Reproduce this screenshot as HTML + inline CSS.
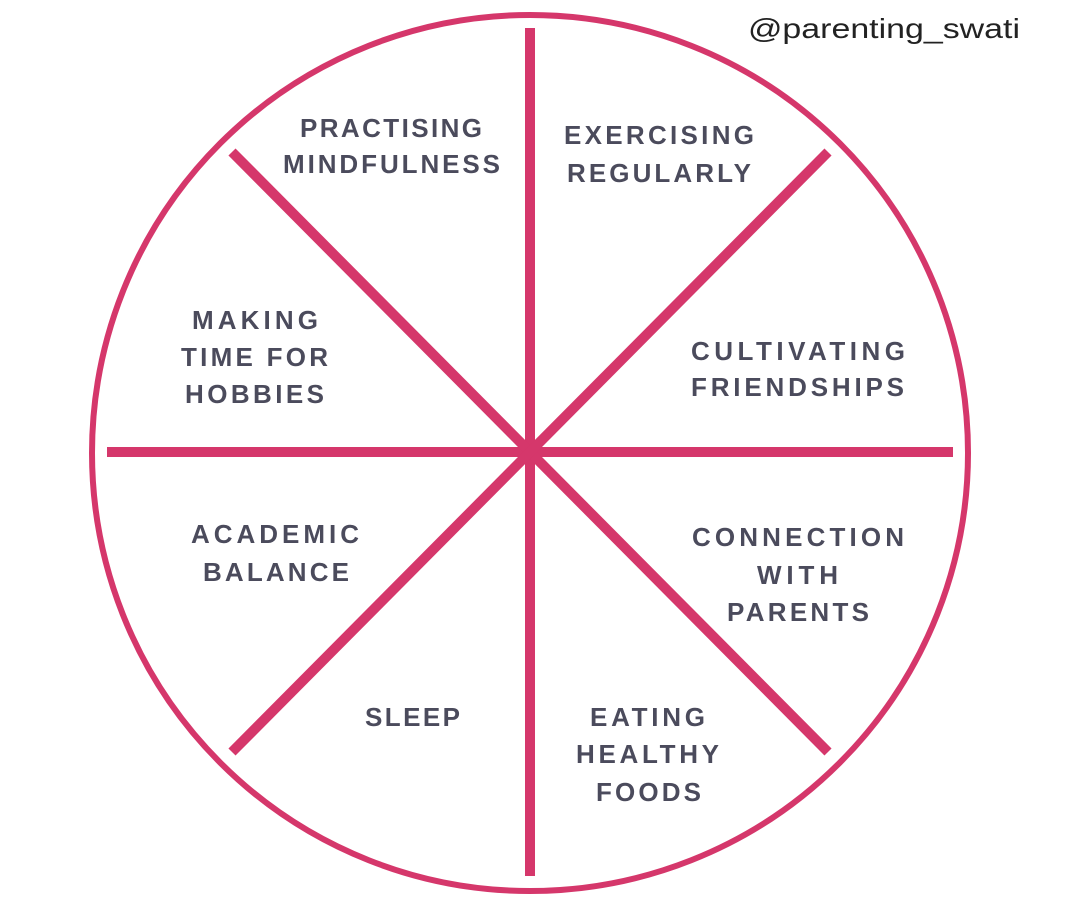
<!DOCTYPE html>
<html><head><meta charset="utf-8"><style>
html,body{margin:0;padding:0;background:#fff;}
svg{display:block;}
.t{font-family:"Liberation Sans",sans-serif;font-weight:bold;font-size:26px;fill:#4b4b5c;}
</style></head><body>
<svg width="1080" height="917" viewBox="0 0 1080 917" xmlns="http://www.w3.org/2000/svg">
<rect width="1080" height="917" fill="#fff"/>
<g stroke="#d5376b" fill="none">
<circle cx="530" cy="453" r="438" stroke-width="6"/>
<line x1="530" y1="28" x2="530" y2="876" stroke-width="10"/>
<line x1="107" y1="452" x2="953" y2="452" stroke-width="10"/>
<line x1="232" y1="152" x2="828" y2="752" stroke-width="10"/>
<line x1="828" y1="152" x2="232" y2="752" stroke-width="10"/>
</g>
<text x="748" y="38" textLength="272" lengthAdjust="spacingAndGlyphs" font-family="Liberation Sans, sans-serif" font-size="28" fill="#222">@parenting_swati</text>
<g class="t">
<text x="300" y="137" textLength="182" lengthAdjust="spacing">PRACTISING</text>
<text x="283" y="173" textLength="217" lengthAdjust="spacing">MINDFULNESS</text>
<text x="564" y="144" textLength="190" lengthAdjust="spacing">EXERCISING</text>
<text x="567" y="182" textLength="184" lengthAdjust="spacing">REGULARLY</text>
<text x="192" y="329" textLength="126" lengthAdjust="spacing">MAKING</text>
<text x="181" y="366" textLength="147" lengthAdjust="spacing">TIME FOR</text>
<text x="185" y="403" textLength="139" lengthAdjust="spacing">HOBBIES</text>
<text x="691" y="360" textLength="214" lengthAdjust="spacing">CULTIVATING</text>
<text x="691" y="396" textLength="213" lengthAdjust="spacing">FRIENDSHIPS</text>
<text x="191" y="543" textLength="168" lengthAdjust="spacing">ACADEMIC</text>
<text x="203" y="581" textLength="146" lengthAdjust="spacing">BALANCE</text>
<text x="692" y="546" textLength="212" lengthAdjust="spacing">CONNECTION</text>
<text x="757" y="584" textLength="81" lengthAdjust="spacing">WITH</text>
<text x="727" y="621" textLength="142" lengthAdjust="spacing">PARENTS</text>
<text x="365" y="726" textLength="95" lengthAdjust="spacing">SLEEP</text>
<text x="590" y="726" textLength="115" lengthAdjust="spacing">EATING</text>
<text x="576" y="763" textLength="143" lengthAdjust="spacing">HEALTHY</text>
<text x="596" y="801" textLength="105" lengthAdjust="spacing">FOODS</text>
</g>
</svg>
</body></html>
